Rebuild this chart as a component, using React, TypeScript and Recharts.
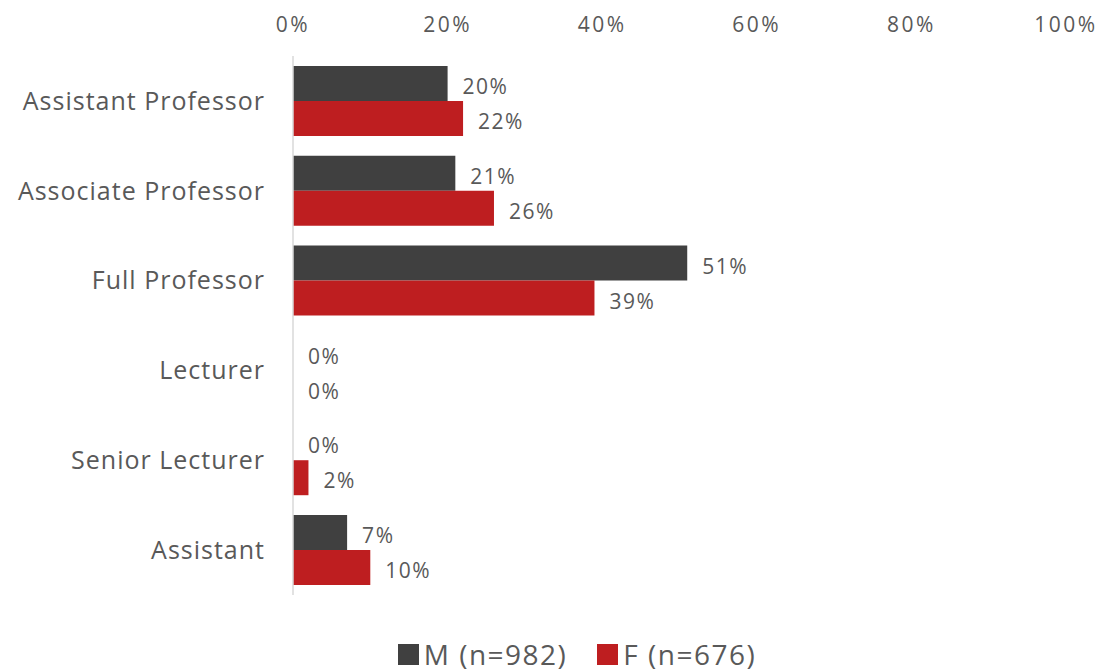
import { BarChart, Bar, XAxis, YAxis, Legend, LabelList } from 'recharts';

// Anteil je Position, in Prozent
const categories = [
  'Assistant Professor',
  'Associate Professor',
  'Full Professor',
  'Lecturer',
  'Senior Lecturer',
  'Assistant',
];
const maleValues = [20, 21, 51, 0, 0, 7];
const femaleValues = [22, 26, 39, 0, 2, 10];
const xTicks = [0, 20, 40, 60, 80, 100];
const seriesNames = ['M (n=982)', 'F (n=676)'];
const seriesColors = ['#404040', '#be1e20'];

const data = categories.map((name, i) => ({
  name,
  m: maleValues[i],
  f: femaleValues[i],
}));

const FONT = '"Open Sans", sans-serif';
const GREY = '#595959';

const renderLabel = (props: any) => {
  const { x, y, width, height, value } = props;
  return (
    <text
      x={x + Math.max(width, 0) + 15}
      y={y + height / 2 + 5}
      fill={GREY}
      fontSize={21}
      letterSpacing={1.5}
      fontFamily={FONT}
      dominantBaseline="middle"
    >
      {value}%
    </text>
  );
};

const renderLegend = () => (
  <div
    style={{
      display: 'flex',
      justifyContent: 'center',
      alignItems: 'center',
      gap: 30,
      fontFamily: FONT,
      fontSize: 28,
      letterSpacing: 1.5,
      color: GREY,
      paddingLeft: 46,
    }}
  >
    {seriesNames.map((n, i) => (
      <div key={n} style={{ display: 'flex', alignItems: 'center', gap: 5 }}>
        <span style={{ width: 21, height: 21, background: seriesColors[i], display: 'inline-block' }} />
        <span>{n}</span>
      </div>
    ))}
  </div>
);

export default function App() {
  return (
    <div style={{ position: 'absolute', left: 0, top: 0, width: 1108, height: 671 }}>
      <BarChart
        width={1108}
        height={671}
        data={data}
        layout="vertical"
        margin={{ top: 0, right: 42, left: 0, bottom: 36 }}
        barCategoryGap="11%"
        barGap={0}
      >
        <XAxis
          type="number"
          orientation="top"
          domain={[0, 100]}
          ticks={xTicks}
          tickFormatter={(v) => `${v}%`}
          axisLine={false}
          tickLine={false}
          tickSize={0}
          tickMargin={24}
          height={56}
          tick={{ fill: GREY, fontSize: 21, fontFamily: FONT, letterSpacing: 2.5 }}
        />
        <YAxis
          type="category"
          dataKey="name"
          width={293}
          axisLine={{ stroke: '#d9d9d9', strokeWidth: 1.5 }}
          tickLine={false}
          tickSize={0}
          tickMargin={28}
          tick={{ fill: GREY, fontSize: 25, fontFamily: FONT, letterSpacing: 1 }}
        />
        <Legend
          verticalAlign="bottom"
          height={40}
          wrapperStyle={{ top: 635, left: 0, width: 1108 }}
          content={renderLegend}
        />
        <Bar dataKey="m" fill={seriesColors[0]} minPointSize={0.01} isAnimationActive={false}>
          <LabelList dataKey="m" content={renderLabel} />
        </Bar>
        <Bar dataKey="f" fill={seriesColors[1]} minPointSize={0.01} isAnimationActive={false}>
          <LabelList dataKey="f" content={renderLabel} />
        </Bar>
      </BarChart>
    </div>
  );
}
